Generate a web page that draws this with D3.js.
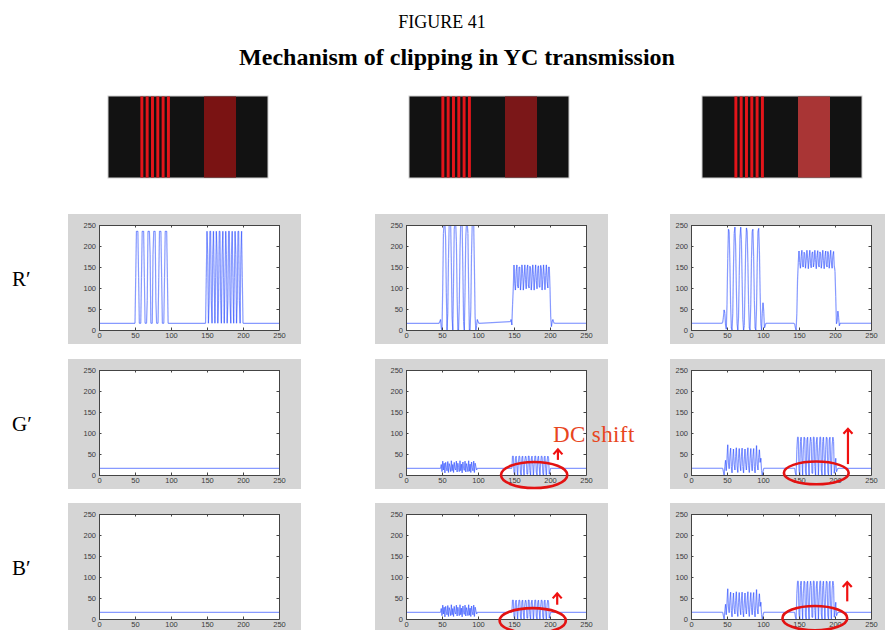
<!DOCTYPE html>
<html><head><meta charset="utf-8">
<script src="https://cdn.jsdelivr.net/npm/d3@7"></script>
<style>body{margin:0;background:#fff}</style>
</head><body><svg id="c" width="885" height="630"></svg>
<script>
// ---------------- data ----------------
const ticks = [0, 50, 100, 150, 200, 250];
const rowLabels = ["R\u2032", "G\u2032", "B\u2032"];
const baseline = 16;

// traces: segments [x0, [y(x0), y(x0+1), ...]] on top of the baseline
const rCol1 = [
  [50, [16,125,235,235,235,125,16,16,16,125,235,235,235,125,16,16,16,70,235,235,235,180,16,16,16,180,235,235,235,70,16,16,16,125,235,235,235,125,16,16,16,125,235,235,235,125,16]],
  [148, [16,
    125,235,180,16,70,235,235,70,16,180,235,125,16,
    125,235,180,16,70,235,235,70,16,180,235,125,16,
    125,235,180,16,70,235,235,70,16,180,235,125,16,
    125,235,180,16,70,235,235,70,16,180,235,125,16, 16]]
];
const gCol1 = [];
const bCol1 = [];

const rCol2 = [
  [46, [16,20,25,5,0,100,230,255,255,220,90,0,40,170,255,255,255,160,30,0,110,240,255,255,210,80,0,0,60,190,255,255,250,140,20,0,90,220,255,255,230,100,0,0,50,180,255,255,255,150,30,0,10,25,20,16]],
  [145, [20,25,12,60,100,
    155,110,95,140,155,105,100,150,150,95,
    115,155,135,95,125,155,120,98,145,155,
    105,100,152,148,95,118,155,132,95,128,
    155,118,98,147,153,103,102,154,145,95,
    120,155,130,96,130,155,115,100,150,150,
    100,30,8,20,25,18,16]]
];
const gCol2 = [
  [48, [16,25,8,33,12,28,5,30,18,10,32,6,27,20,8,34,10,25,6,30,15,12,33,7,28,18,8,34,10,26,5,31,16,11,33,7,27,19,8,34,9,26,6,31,17,10,33,6,28,20,12,16]],
  [147, [16,45,45,6,0,40,45,20,0,30,45,44,4,0,42,45,15,0,35,45,40,2,2,45,45,10,0,38,45,25,0,25,45,45,6,0,40,45,20,0,30,45,44,4,0,42,45,15,0,35,45,40,2,10,16,16]]
];
const bCol2 = gCol2;

const rCol3 = [
  [43, [16,18,30,48,40,12,2,60,170,240,235,160,60,5,0,40,150,230,245,200,100,15,0,30,130,220,245,215,120,25,0,10,100,200,243,235,160,60,5,0,60,170,235,240,175,70,5,0,50,160,235,242,190,90,15,0,40,65,45,5,10,16]],
  [143, [16,14,5,0,40,120,160,
    188,160,147,175,190,152,150,185,182,147,
    165,190,170,146,172,190,158,148,183,186,
    150,160,190,168,146,176,189,155,150,186,
    182,147,165,190,165,146,175,188,155,150,
    187,180,147,168,190,162,147,178,187,152,
    140,80,15,20,45,30,10,16]]
];
const gCol3 = [
  [44, [16,8,0,20,35,10,40,72,30,15,45,64,20,5,38,62,25,12,44,65,22,6,40,63,28,10,45,64,20,5,38,62,25,12,45,65,22,6,40,63,28,10,44,63,20,5,38,70,25,12,42,60,30,40,10,0,8,16]],
  [144, [16,5,0,60,90,90,12,0,80,90,40,0,60,90,88,8,0,84,90,30,0,70,90,80,4,4,90,90,20,0,76,90,50,0,50,90,90,12,0,80,90,40,0,60,90,88,8,0,84,90,30,0,70,90,80,4,20,40,8,12,16]]
];
const bCol3 = gCol3;

const traces = [[rCol1, gCol1, bCol1], [rCol2, gCol2, bCol2], [rCol3, gCol3, bCol3]];

// stripe test images (sample ranges)
const imgPulses = [[50.6,55.2],[58.9,63.5],[67.2,71.8],[75.5,80.1],[83.8,88.4],[92.1,96.7]];
const imgBand = [150, 200];
const imgPulseColor = "#e4151a";
const imgBandColors = ["#7a1313", "#7b1718", "#a93535"];

// annotations (data units)
const dcLabel = { col: 1, row: 1, x: 204, y: 79, text: "DC shift" };
const ellipses = [
  { col: 1, row: 1, cx: 178, cy: 0, rx: 46, ry: 31 },
  { col: 2, row: 1, cx: 174, cy: 5, rx: 45, ry: 27 },
  { col: 1, row: 2, cx: 176, cy: -4, rx: 46, ry: 30 },
  { col: 2, row: 2, cx: 172, cy: 2, rx: 45, ry: 29 }
];
const arrows = [
  { col: 1, row: 1, x: 211, y0: 36, y1: 61 },
  { col: 2, row: 1, x: 218, y0: 26, y1: 110 },
  { col: 1, row: 2, x: 210, y0: 34, y1: 61 },
  { col: 2, row: 2, x: 217, y0: 42, y1: 88 }
];

// ---------------- layout ----------------
const plotLeft = [99, 406, 691];
const plotW = 180, plotH = 105;
const plotTop = [225, 370, 514];
const grayLeftPad = [31, 31, 21];
const grayRightPad = [22, 22, 14];
const imgLeft = [108, 409, 702];
const imgTop = 96, imgW = 160, imgH = 82;

const svg = d3.select("#c");
const serif = "'Liberation Serif','Times New Roman',serif";
const sans = "'Liberation Sans',Arial,sans-serif";

svg.append("text").attr("x", 442).attr("y", 28).attr("text-anchor", "middle")
  .style("font-family", serif).style("font-size", "18px").text("FIGURE 41");
svg.append("text").attr("x", 457).attr("y", 65).attr("text-anchor", "middle")
  .style("font-family", serif).style("font-size", "24px").style("font-weight", "bold")
  .text("Mechanism of clipping in YC transmission");

// images
imgLeft.forEach((ix, ci) => {
  const xs = d3.scaleLinear().domain([0, 250]).range([ix, ix + imgW]);
  const g = svg.append("g");
  g.append("rect").attr("x", ix).attr("y", imgTop).attr("width", imgW).attr("height", imgH)
    .attr("fill", "#121212").attr("stroke", "#d0d0d0").attr("stroke-width", 1);
  g.selectAll("rect.p").data(imgPulses).join("rect").attr("class", "p")
    .attr("x", d => xs(d[0])).attr("width", d => xs(d[1]) - xs(d[0]))
    .attr("y", imgTop + 0.5).attr("height", imgH - 1).attr("fill", imgPulseColor);
  g.append("rect").attr("x", xs(imgBand[0])).attr("width", xs(imgBand[1]) - xs(imgBand[0]))
    .attr("y", imgTop + 0.5).attr("height", imgH - 1).attr("fill", imgBandColors[ci]);
});

// panels
const expand = segs => {
  const pts = [[0, baseline]];
  segs.forEach(([x0, ys]) => ys.forEach((y, i) => pts.push([x0 + i, y])));
  pts.push([250, baseline]);
  return pts;
};

const scales = {};
traces.forEach((col, ci) => col.forEach((segs, ri) => {
  const L = plotLeft[ci], T = plotTop[ri];
  const x = d3.scaleLinear().domain([0, 250]).range([L, L + plotW]);
  const y = d3.scaleLinear().domain([0, 250]).range([T + plotH, T]);
  scales[ci + "_" + ri] = { x, y };
  const g = svg.append("g");
  const gx0 = L - grayLeftPad[ci];
  const gx1 = Math.min(885, L + plotW + grayRightPad[ci]);
  g.append("rect").attr("x", gx0).attr("y", T - 11).attr("width", gx1 - gx0).attr("height", plotH + 25)
    .attr("fill", "#d5d5d5");
  g.append("rect").attr("x", L).attr("y", T).attr("width", plotW).attr("height", plotH).attr("fill", "#fff");
  const cid = "clip" + ci + ri;
  svg.append("clipPath").attr("id", cid).append("rect").attr("x", L).attr("y", T).attr("width", plotW).attr("height", plotH);
  const pts = expand(segs);
  g.append("g").attr("clip-path", `url(#${cid})`).selectAll("line").data(d3.pairs(pts)).join("line")
    .attr("x1", d => x(d[0][0])).attr("y1", d => y(d[0][1]))
    .attr("x2", d => x(d[1][0])).attr("y2", d => y(d[1][1]))
    .attr("stroke", "#2447ff").attr("stroke-opacity", 0.55).attr("stroke-width", 1.2);
  const axStyle = a => a.selectAll("text").style("font-family", sans).style("font-size", "7.5px").attr("fill", "#3a3a3a");
  const mk = (axis, tr, labels) => {
    const a = g.append("g").attr("transform", tr).call(axis);
    a.select(".domain").attr("stroke", "#444");
    a.selectAll(".tick line").attr("stroke", "#444");
    if (!labels) a.selectAll("text").remove(); else axStyle(a);
  };
  mk(d3.axisBottom(x).tickValues(ticks).tickSizeInner(-2.5).tickSizeOuter(0).tickPadding(3), `translate(0,${T + plotH})`, true);
  mk(d3.axisLeft(y).tickValues(ticks).tickSizeInner(-2.5).tickSizeOuter(0).tickPadding(3), `translate(${L},0)`, true);
  mk(d3.axisTop(x).tickValues(ticks).tickSizeInner(-2.5).tickSizeOuter(0), `translate(0,${T})`, false);
  mk(d3.axisRight(y).tickValues(ticks).tickSizeInner(-2.5).tickSizeOuter(0), `translate(${L + plotW},0)`, false);
}));

// row labels
rowLabels.forEach((t, ri) => {
  svg.append("text").attr("x", 12).attr("y", plotTop[ri] + plotH / 2 + 8)
    .style("font-family", serif).style("font-size", "21px").text(t);
});

// annotations
{
  const s = scales[dcLabel.col + "_" + dcLabel.row];
  svg.append("text").attr("x", s.x(dcLabel.x)).attr("y", s.y(dcLabel.y))
    .style("font-family", serif).style("font-size", "23px").style("letter-spacing", "0.4px").attr("fill", "#e8461e")
    .text(dcLabel.text);
}
ellipses.forEach(e => {
  const s = scales[e.col + "_" + e.row];
  svg.append("ellipse").attr("cx", s.x(e.cx)).attr("cy", s.y(e.cy))
    .attr("rx", s.x(e.rx) - s.x(0)).attr("ry", s.y(0) - s.y(e.ry))
    .attr("fill", "none").attr("stroke", "#e31212").attr("stroke-width", 2.6);
});
arrows.forEach(a => {
  const s = scales[a.col + "_" + a.row];
  const ax = s.x(a.x), y0 = s.y(a.y0), y1 = s.y(a.y1);
  svg.append("line").attr("x1", ax).attr("x2", ax).attr("y1", y0).attr("y2", y1)
    .attr("stroke", "#f01010").attr("stroke-width", 2.2);
  svg.append("polyline").attr("points", `${ax - 4.5},${y1 + 5} ${ax},${y1} ${ax + 4.5},${y1 + 5}`)
    .attr("fill", "none").attr("stroke", "#f01010").attr("stroke-width", 2.2);
});
</script>
</body></html>
